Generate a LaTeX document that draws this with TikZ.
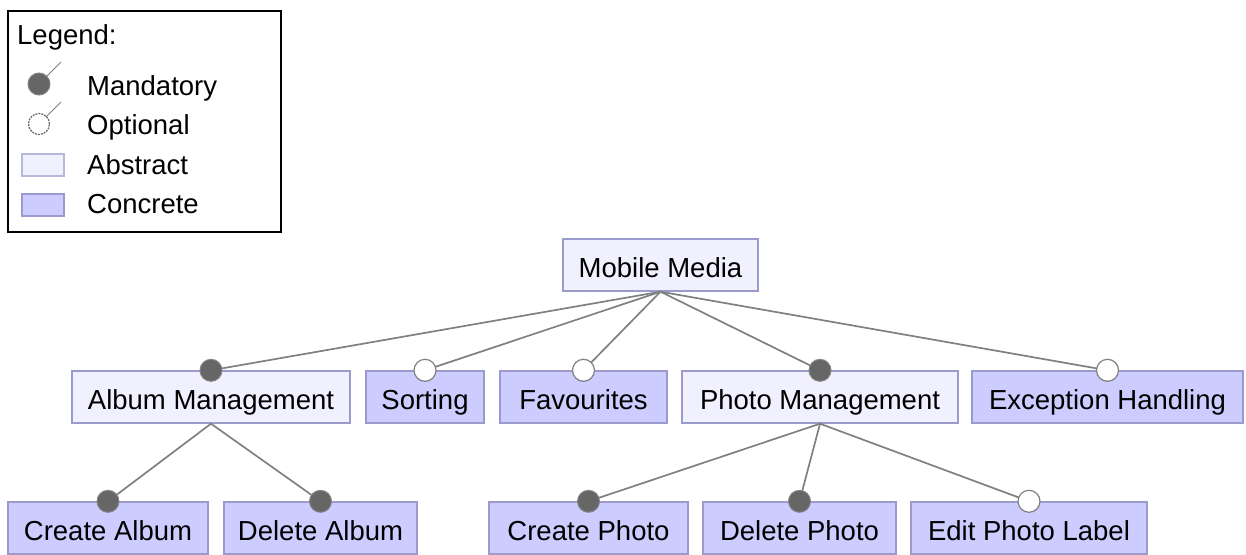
\documentclass[tikz,border=0pt]{standalone}
\usepackage{fontspec}
\setmainfont{Liberation Sans}
\definecolor{absfill}{HTML}{F0F0FF}
\definecolor{confill}{HTML}{CCCCFF}
\definecolor{boxline}{HTML}{9A9ACC}
\definecolor{edgecol}{HTML}{808080}
\definecolor{mandfill}{HTML}{666666}
\begin{document}
\begin{tikzpicture}[x=1pt,y=-1pt,
  every node/.style={font=\fontsize{27.5}{32}\selectfont, inner sep=0pt, text height=19.7pt, text depth=0pt},
  feat/.style={draw=boxline, line width=1.4pt, minimum height=52pt, anchor=center, text height=25pt},
  abstractfeat/.style={feat, fill=absfill},
  concretefeat/.style={feat, fill=confill},
  edge/.style={draw=edgecol, line width=1.7pt},
  mand/.style={circle, fill=mandfill, draw=mandfill!80!white, line width=1pt, minimum size=22pt, inner sep=0pt, text height=, text depth=},
  opt/.style={circle, fill=white, draw=edgecol, line width=1.2pt, minimum size=22pt, inner sep=0pt, text height=, text depth=},
  legtext/.style={anchor=west}
]
\useasboundingbox (0,0) rectangle (1246,554);
% Legend
\node[draw=black, line width=1.5pt, minimum width=273pt, minimum height=221pt, anchor=north west, text height=, text depth=] (legend) at (7,10) {};
\node[legtext] (legtitle) at (17,35) {Legend:};
\coordinate (lm) at (61,62);
\coordinate (lo) at (61,102);
\node[mand, minimum size=22pt] (lmc) at (39,84) {};
\draw[edge, line width=1pt] (lmc.center) ++(7,-7) -- (lm);
\node[opt, minimum size=21pt, draw=black!60, dash pattern=on 2pt off 1pt] (loc) at (39,124) {};
\draw[edge, line width=1pt] (loc.center) ++(7,-7) -- (lo);
\node[legtext] (lmt) at (87,86) {Mandatory};
\node[legtext] (lot) at (87,125) {Optional};
\node[draw=boxline!70, line width=1.4pt, fill=absfill, minimum width=42pt, minimum height=22pt, text height=, text depth=] (lab) at (43,165) {};
\node[legtext] (labt) at (87,165) {Abstract};
\node[draw=boxline, line width=1.4pt, fill=confill, minimum width=42pt, minimum height=22pt, text height=, text depth=] (lcon) at (43,205) {};
\node[legtext] (lcont) at (87,204) {Concrete};
% Features
\node[abstractfeat, minimum width=195pt] (mm) at (660.5,265) {Mobile Media};
\node[abstractfeat, minimum width=278pt] (am) at (211,397) {Album Management};
\node[concretefeat, minimum width=118pt] (so) at (425,397) {Sorting};
\node[concretefeat, minimum width=167pt] (fa) at (583.5,397) {Favourites};
\node[abstractfeat, minimum width=276pt] (pm) at (820,397) {Photo Management};
\node[concretefeat, minimum width=271pt] (eh) at (1107.5,397) {Exception Handling};
\node[concretefeat, minimum width=200pt] (ca) at (108,528) {Create Album};
\node[concretefeat, minimum width=193pt] (da) at (320.5,528) {Delete Album};
\node[concretefeat, minimum width=199pt] (cp) at (588.5,528) {Create Photo};
\node[concretefeat, minimum width=193pt] (dp) at (799.5,528) {Delete Photo};
\node[concretefeat, minimum width=236pt] (ep) at (1029,528) {Edit Photo Label};
% Edges
\foreach \c in {am,so,fa,pm,eh}{\draw[edge] (mm.south) -- (\c.north);}
\foreach \c in {ca,da}{\draw[edge] (am.south) -- (\c.north);}
\foreach \c in {cp,dp,ep}{\draw[edge] (pm.south) -- (\c.north);}
% Decorations
\foreach \c in {am,pm,ca,da,cp,dp}{\node[mand] at (\c.north) {};}
\foreach \c in {so,fa,eh,ep}{\node[opt] at (\c.north) {};}
\end{tikzpicture}
\end{document}
